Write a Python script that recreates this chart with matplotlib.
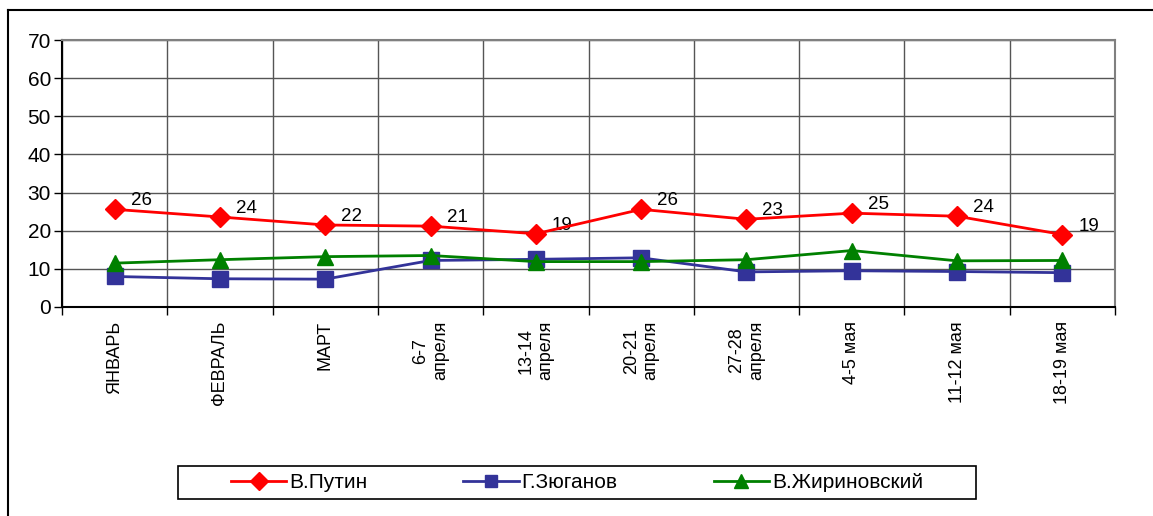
import matplotlib.pyplot as plt
from matplotlib.lines import Line2D
from matplotlib.patches import Rectangle

plt.rcParams['font.family'] = ['Liberation Sans', 'DejaVu Sans']

# --- ДАННЫЕ ---
periods = ['ЯНВАРЬ', 'ФЕВРАЛЬ', 'МАРТ', '6-7\nапреля', '13-14\nапреля',
           '20-21\nапреля', '27-28\nапреля', '4-5 мая', '11-12 мая', '18-19 мая']
putin = [25.6, 23.6, 21.5, 21.2, 19.2, 25.6, 23.0, 24.6, 23.8, 19.0]
putin_labels = ['26', '24', '22', '21', '19', '26', '23', '25', '24', '19']
zyuganov = [8.0, 7.4, 7.3, 12.2, 12.5, 12.9, 9.2, 9.5, 9.3, 9.0]
zhirinovsky = [11.5, 12.4, 13.2, 13.5, 11.9, 11.9, 12.4, 14.8, 12.1, 12.2]

W, H = 1153, 516
fig = plt.figure(figsize=(W / 100, H / 100), dpi=100)
ax = fig.add_axes([62 / W, 1 - 307 / H, (1115 - 62) / W, (307 - 40) / H])

x = list(range(len(periods)))
ax.plot(x, putin, color='#ff0000', lw=2, marker='D', ms=10.5, label='В.Путин', zorder=4)
ax.plot(x, zyuganov, color='#333399', lw=2, marker='s', ms=11, label='Г.Зюганов', zorder=3)
ax.plot(x, zhirinovsky, color='#008000', lw=2, marker='^', ms=12, label='В.Жириновский', zorder=3)

for xi, yi, t in zip(x, putin, putin_labels):
    ax.annotate(t, (xi, yi), xytext=(16, 0), textcoords='offset pixels',
                ha='left', va='bottom', fontsize=13.5)

ax.set_xlim(-0.5, len(periods) - 0.5)
ax.set_ylim(0, 70)
ax.set_yticks(range(0, 71, 10))
ax.tick_params(axis='y', labelsize=15, length=6, width=1, direction='out', pad=2)

# категории между линиями сетки
ax.set_xticks([i - 0.5 for i in range(len(periods) + 1)])
ax.set_xticklabels([])
ax.set_xticks(x, minor=True)
ax.set_xticklabels(periods, minor=True, rotation=90, fontsize=13,
                   va='top', ha='center', multialignment='center')
ax.tick_params(axis='x', which='major', length=6, width=1, direction='out')
ax.tick_params(axis='x', which='minor', length=0, pad=10)

ax.grid(True, axis='y', which='major', color='#555555', lw=1)
ax.grid(True, axis='x', which='major', color='#555555', lw=1)
ax.set_axisbelow(True)
for side in ['top', 'right']:
    ax.spines[side].set_color('#808080')
    ax.spines[side].set_linewidth(1.5)
ax.spines['left'].set_linewidth(1.5)
ax.spines['bottom'].set_linewidth(1.5)

# внешняя рамка
fig.add_artist(Line2D([8 / W, 1], [1 - 10 / H, 1 - 10 / H], color='black', lw=1.5))
fig.add_artist(Line2D([8 / W, 8 / W], [0, 1 - 10 / H], color='black', lw=1.5))

# рамка легенды
fig.add_artist(Rectangle((178 / W, 1 - 499 / H), (976 - 178) / W, 33 / H,
                         transform=fig.transFigure, fill=False,
                         edgecolor='black', lw=1.2))
fig.legend(loc='center', ncol=3, fontsize=15, frameon=False,
           bbox_to_anchor=(577 / W, 1 - 483 / H), borderaxespad=0,
           handlelength=2.65, handletextpad=0.15, columnspacing=4.6,
           markerscale=0.85)

fig.savefig('out.png', dpi=100)
